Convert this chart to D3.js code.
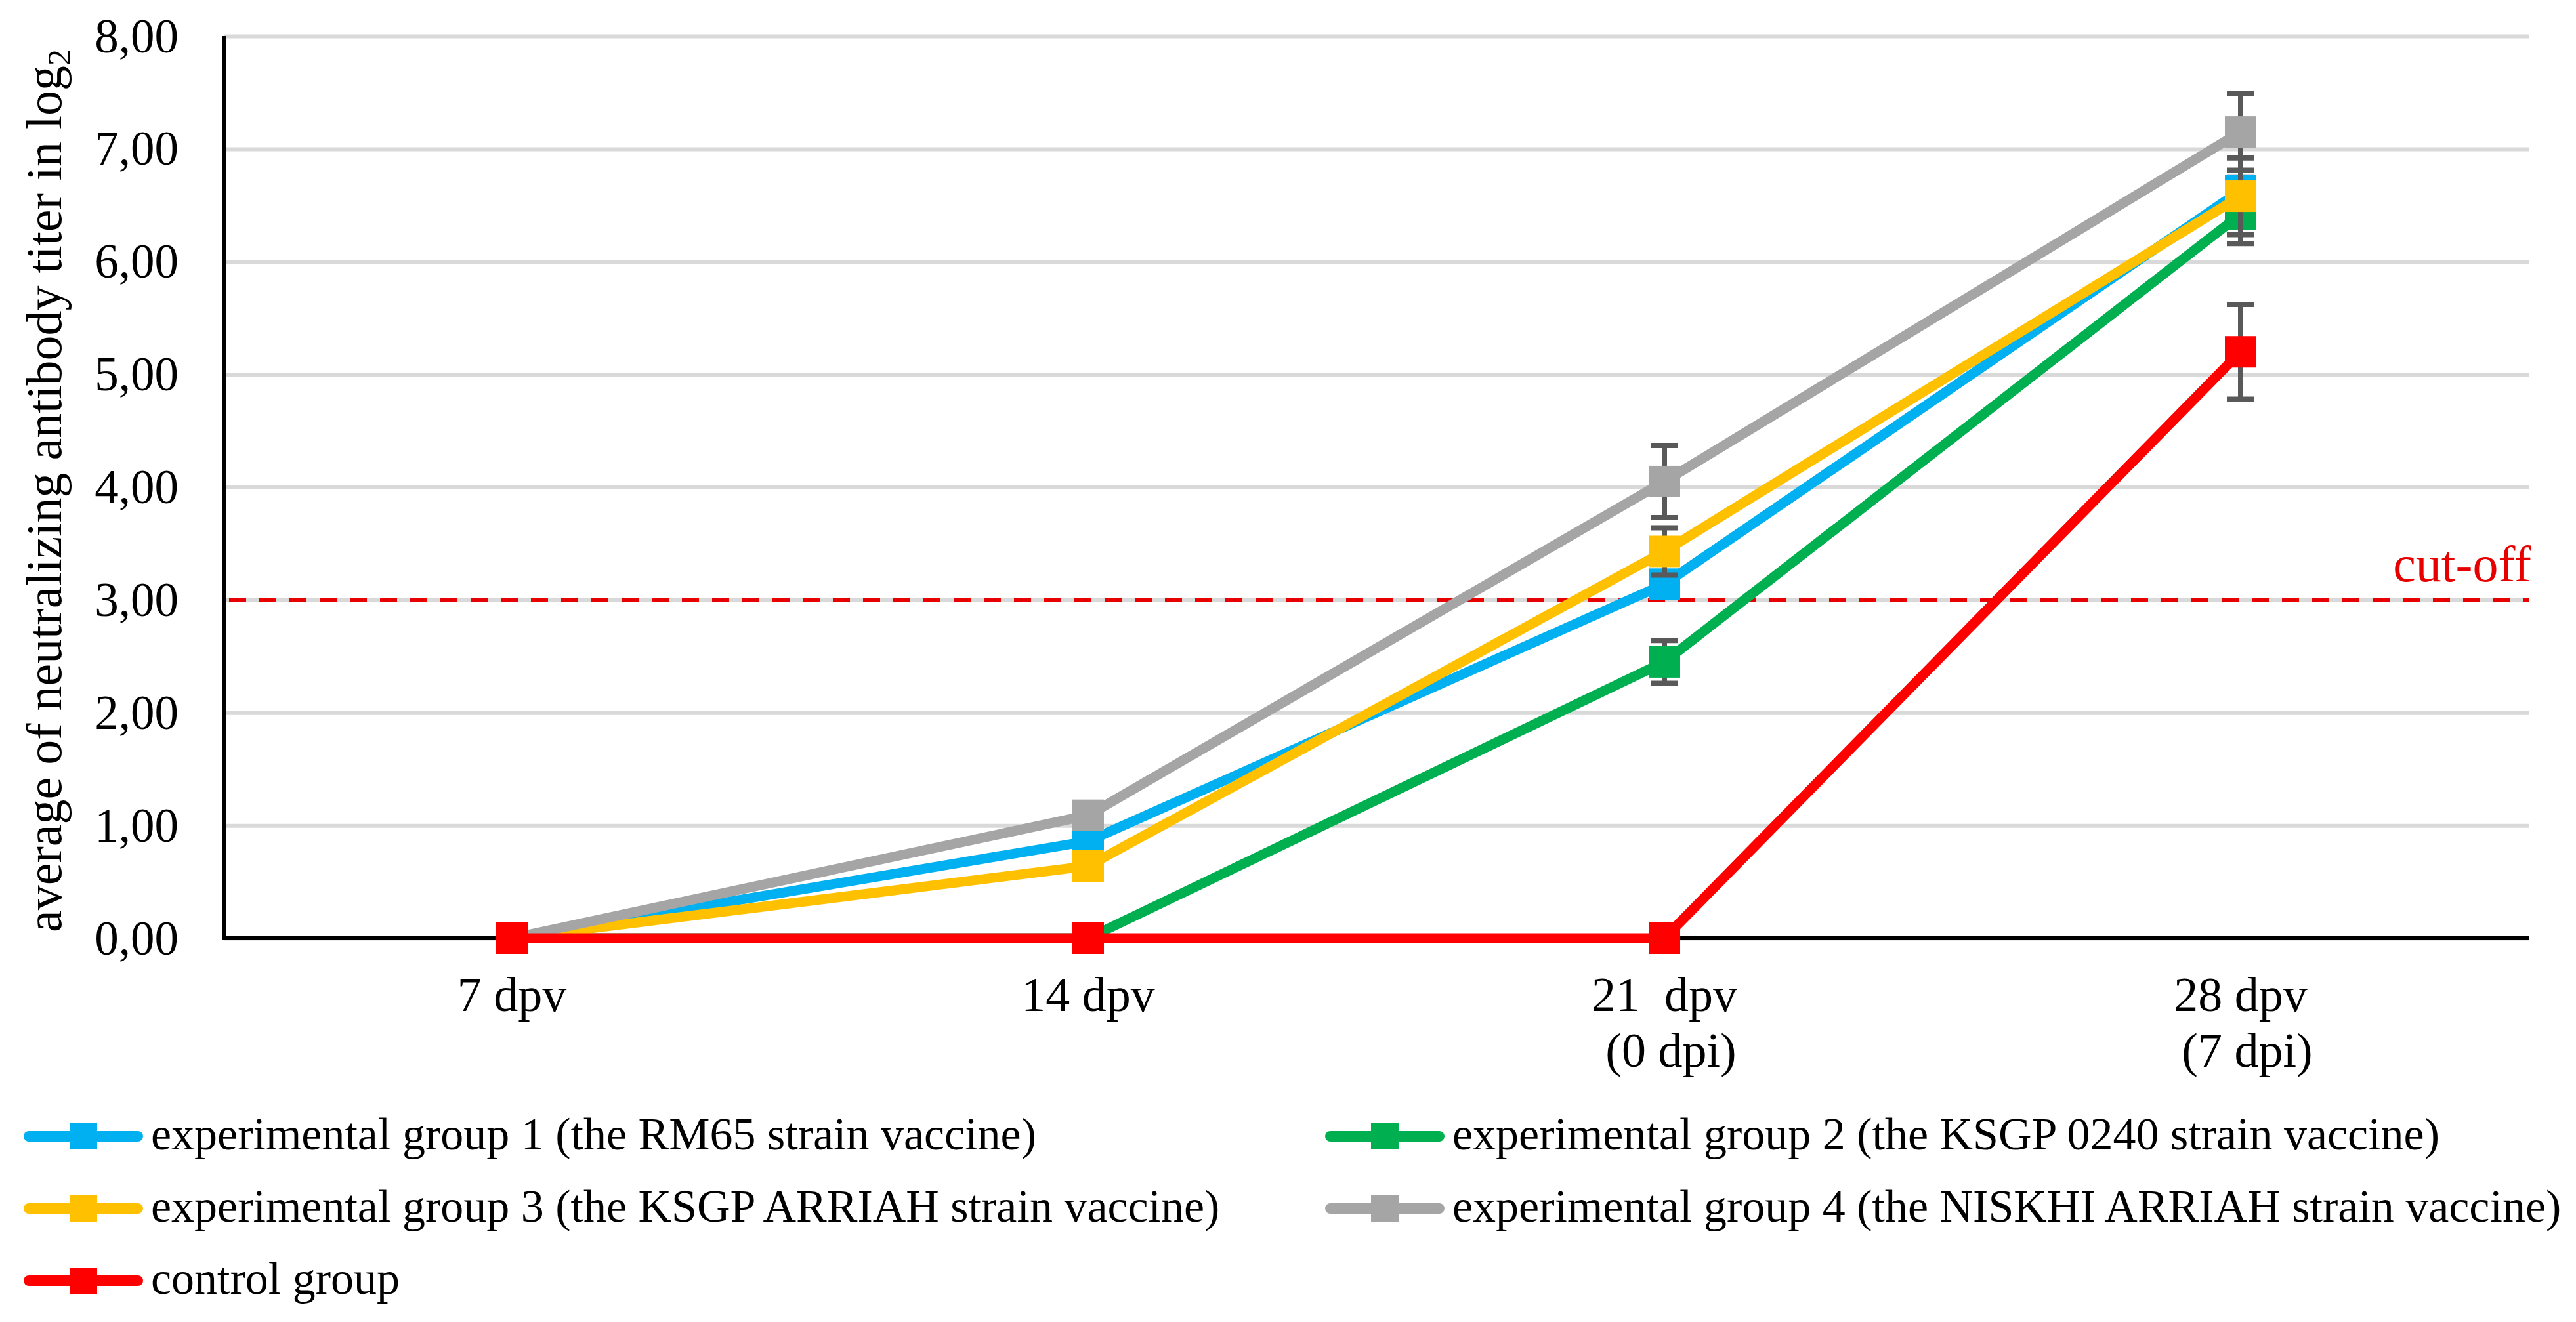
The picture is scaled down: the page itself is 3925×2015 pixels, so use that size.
<!DOCTYPE html>
<html>
<head>
<meta charset="utf-8">
<script src="https://cdn.jsdelivr.net/npm/d3@7"></script>
<style>
  html, body { margin: 0; padding: 0; background: #fff; }
  svg { display: block; font-family: "Liberation Serif", "Times New Roman", serif; }
</style>
</head>
<body>
<div id="chart"></div>
<script>
/* ---- data ---- */
var categories = ["7 dpv", "14 dpv", "21  dpv", "28 dpv"];
var subLabels = ["", "", "(0 dpi)", "(7 dpi)"];
var yTicks = [0, 1, 2, 3, 4, 5, 6, 7, 8];
var cutoff = 3;

var seriesNames = [
  "experimental group 1 (the RM65 strain vaccine)",
  "experimental group 2 (the KSGP 0240 strain vaccine)",
  "experimental group 3 (the KSGP ARRIAH strain vaccine)",
  "experimental group 4 (the NISKHI ARRIAH strain vaccine)",
  "control group"
];
var seriesColors = ["#00b0f0", "#00b050", "#ffc000", "#a5a5a5", "#ff0000"];

var group1 = [0, 0.86, 3.14, 6.63];
var group2 = [0, 0, 2.45, 6.42];
var group3 = [0, 0.64, 3.43, 6.58];
var group4 = [0, 1.09, 4.05, 7.15];
var control = [0, 0, 0, 5.2];

var err1 = [0, 0, 0.1, 0.12];
var err2 = [0, 0, 0.19, 0.26];
var err3 = [0, 0, 0.21, 0.34];
var err4 = [0, 0, 0.32, 0.34];
var errC = [0, 0, 0, 0.42];

var seriesValues = [group1, group2, group3, group4, control];
var seriesErrors = [err1, err2, err3, err4, errC];

/* ---- layout ---- */
var W = 3925, H = 2015;
var pLeft = 341, pRight = 3853, pTop = 55, pBottom = 1430;
var fs = 74;

var svg = d3.select("#chart").append("svg")
  .attr("width", W).attr("height", H)
  .attr("viewBox", "0 0 " + W + " " + H);
svg.append("rect").attr("width", W).attr("height", H).attr("fill", "#fff");

var x = d3.scaleBand().domain(categories).range([pLeft, pRight]).padding(0);
var y = d3.scaleLinear().domain([0, 8]).range([pBottom, pTop]);
function cx(i) { return x(categories[i]) + x.bandwidth() / 2; }

/* gridlines */
var grid = svg.append("g")
  .attr("transform", "translate(" + pLeft + ",0)")
  .call(d3.axisLeft(y).tickValues(yTicks).tickSize(-(pRight - pLeft)).tickFormat(""));
grid.select(".domain").remove();
grid.selectAll(".tick line").attr("stroke", "#d9d9d9").attr("stroke-width", 6);

/* y tick labels */
var fmt = function (d) { return d3.format(".2f")(d).replace(".", ","); };
var yAxis = svg.append("g")
  .attr("transform", "translate(272,0)")
  .call(d3.axisLeft(y).tickValues(yTicks).tickSize(0).tickPadding(0).tickFormat(fmt));
yAxis.select(".domain").remove();
yAxis.selectAll(".tick text")
  .attr("font-family", "Liberation Serif, serif")
  .attr("font-size", 73).attr("fill", "#000")
  .attr("dy", "0.33em");

/* cut-off line */
svg.append("line")
  .attr("x1", pLeft + 8).attr("x2", pRight)
  .attr("y1", y(cutoff)).attr("y2", y(cutoff))
  .attr("stroke", "#e60000").attr("stroke-width", 7)
  .attr("stroke-dasharray", "26,20");
svg.append("text")
  .attr("x", pRight + 4).attr("y", y(cutoff) - 28)
  .attr("text-anchor", "end")
  .attr("font-size", 78).attr("fill", "#e60000")
  .text("cut-off");

/* axes lines */
svg.append("line")
  .attr("x1", pLeft).attr("x2", pLeft).attr("y1", pTop).attr("y2", pBottom + 3)
  .attr("stroke", "#000").attr("stroke-width", 6);
svg.append("line")
  .attr("x1", pLeft - 3).attr("x2", pRight).attr("y1", pBottom).attr("y2", pBottom)
  .attr("stroke", "#000").attr("stroke-width", 6);

/* x labels */
categories.forEach(function (c, i) {
  svg.append("text")
    .attr("x", cx(i)).attr("y", 1541)
    .attr("text-anchor", "middle").attr("font-size", fs)
    .style("white-space", "pre")
    .text(c);
  if (subLabels[i]) {
    svg.append("text")
      .attr("x", cx(i) + 10).attr("y", 1626)
      .attr("text-anchor", "middle").attr("font-size", fs)
      .text(subLabels[i]);
  }
});

/* y title */
var yt = svg.append("text")
  .attr("transform", "translate(93,748) rotate(-90)")
  .attr("text-anchor", "middle").attr("font-size", 76);
yt.append("tspan").text("average of neutralizing antibody titer in log");
yt.append("tspan").attr("font-size", 50).attr("dy", 14).text("2");

/* series */
var line = d3.line()
  .x(function (d, i) { return cx(i); })
  .y(function (d) { return y(d); });
var ms = 48;

seriesValues.forEach(function (vals, s) {
  var col = seriesColors[s];
  var g = svg.append("g");
  g.append("path")
    .attr("d", line(vals))
    .attr("fill", "none").attr("stroke", col)
    .attr("stroke-width", 15).attr("stroke-linejoin", "round");

  vals.forEach(function (v, i) {
    var e = seriesErrors[s][i];
    if (!e) return;
    var xx = cx(i);
    g.append("line")
      .attr("x1", xx).attr("x2", xx).attr("y1", y(v + e)).attr("y2", y(v - e))
      .attr("stroke", "#595959").attr("stroke-width", 8);
    [v + e, v - e].forEach(function (t) {
      g.append("line")
        .attr("x1", xx - 21).attr("x2", xx + 21).attr("y1", y(t)).attr("y2", y(t))
        .attr("stroke", "#595959").attr("stroke-width", 8);
    });
  });

  g.selectAll("rect.m").data(vals).enter().append("rect")
    .attr("class", "m")
    .attr("x", function (d, i) { return cx(i) - ms / 2; })
    .attr("y", function (d) { return y(d) - ms / 2; })
    .attr("width", ms).attr("height", ms)
    .attr("fill", col);
});

/* legend */
var legendPos = [
  [36, 1732], [2019, 1732],
  [36, 1842], [2019, 1842],
  [36, 1952]
];
seriesNames.forEach(function (name, s) {
  var lx = legendPos[s][0], ly = legendPos[s][1];
  var col = seriesColors[s];
  var g = svg.append("g");
  g.append("line")
    .attr("x1", lx + 8).attr("x2", lx + 174).attr("y1", ly).attr("y2", ly)
    .attr("stroke", col).attr("stroke-width", 16).attr("stroke-linecap", "round");
  g.append("rect")
    .attr("x", lx + 91 - 21).attr("y", ly - 20)
    .attr("width", 42).attr("height", 40).attr("fill", col);
  g.append("text")
    .attr("x", lx + 194).attr("y", ly + 20)
    .attr("font-size", 70).attr("fill", "#000")
    .text(name);
});
</script>
</body>
</html>
